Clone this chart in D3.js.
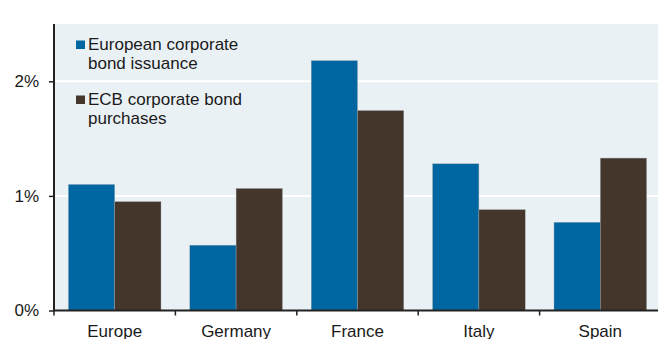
<!DOCTYPE html>
<html><head><meta charset="utf-8">
<script src="https://cdn.jsdelivr.net/npm/d3@7"></script>
<style>body{margin:0;background:#fff;} svg{display:block;font-family:"Liberation Sans",Arial,sans-serif;}</style>
</head><body>
<svg id="c" width="658" height="339"></svg>
<script>
const categories = ["Europe", "Germany", "France", "Italy", "Spain"];
const seriesNames = ["European corporate bond issuance", "ECB corporate bond purchases"];
const issuance = [1.10, 0.57, 2.18, 1.28, 0.77];
const purchases = [0.95, 1.065, 1.745, 0.88, 1.33];
const yTicks = [0, 1, 2];
const legendLines = [["European corporate", "bond issuance"], ["ECB corporate bond", "purchases"]];
const colors = ["#0066a1", "#45362b"];

(function () {
const svg = d3.select("#c");
const mL = 54, mR = 661, mT = 24, mB = 310.5;
const x = d3.scaleBand().domain(categories).range([mL, mR]).padding(0);
const bw = x.bandwidth();
const xi = d3.scaleBand().domain([0, 1]).range([14.4, bw - 14.4]).padding(0);
const y = d3.scaleLinear().domain([0, 2.5]).range([mB, mT]);

svg.append("rect").attr("x", mL).attr("y", mT).attr("width", mR - mL).attr("height", mB - mT).attr("fill", "#eaf1f5");

// gridlines
svg.append("g").selectAll("line").data(yTicks.filter(d => d > 0)).join("line")
  .attr("x1", mL).attr("x2", mR).attr("y1", d => y(d)).attr("y2", d => y(d))
  .attr("stroke", "#fff").attr("stroke-width", 2);

// bars
const data = categories.map((c, i) => ({c, vals: [issuance[i], purchases[i]]}));
const g = svg.append("g");
data.forEach(d => {
  d.vals.forEach((v, k) => {
    g.append("rect")
      .attr("x", x(d.c) + xi(k)).attr("width", xi.bandwidth())
      .attr("y", y(v)).attr("height", y(0) - y(v))
      .attr("fill", colors[k]).attr("stroke", "#9aa5ad").attr("stroke-width", 0.4);
  });
});

// legend
legendLines.forEach((lines, k) => {
  const by = [50, 105][k];
  svg.append("rect").attr("x", 76).attr("y", by - 9.5).attr("width", 9).attr("height", 8.5).attr("fill", colors[k]);
  lines.forEach((t, j) => {
    svg.append("text").attr("x", 88).attr("y", by + j * 19.3).attr("font-size", 17).attr("fill", "#1a1a1a").text(t);
  });
});

// y axis
const ya = svg.append("g").attr("transform", `translate(${mL},0)`)
  .call(d3.axisLeft(y).tickValues(yTicks).tickFormat(d => d + "%").tickSize(5).tickPadding(10));
ya.select(".domain").remove();
ya.selectAll(".tick line").attr("stroke", "#222").attr("stroke-width", 1.5);
ya.selectAll("text").attr("font-size", 17).attr("fill", "#1a1a1a").attr("font-family", "Liberation Sans, Arial, sans-serif");
svg.append("line").attr("x1", mL).attr("x2", mL).attr("y1", mT).attr("y2", mB + 1)
  .attr("stroke", "#222").attr("stroke-width", 2);

// x axis
const boundaries = categories.map(c => x(c));
svg.append("g").selectAll("line").data(boundaries).join("line")
  .attr("x1", d => d).attr("x2", d => d).attr("y1", mB).attr("y2", mB + 5)
  .attr("stroke", "#222").attr("stroke-width", 1.5);
svg.append("line").attr("x1", mL - 1).attr("x2", mR).attr("y1", mB).attr("y2", mB)
  .attr("stroke", "#222").attr("stroke-width", 2);
svg.append("g").selectAll("text").data(categories).join("text")
  .attr("x", d => x(d) + bw / 2).attr("y", 337).attr("text-anchor", "middle")
  .attr("font-size", 17).attr("fill", "#1a1a1a").text(d => d);
})();
</script>
</body></html>
